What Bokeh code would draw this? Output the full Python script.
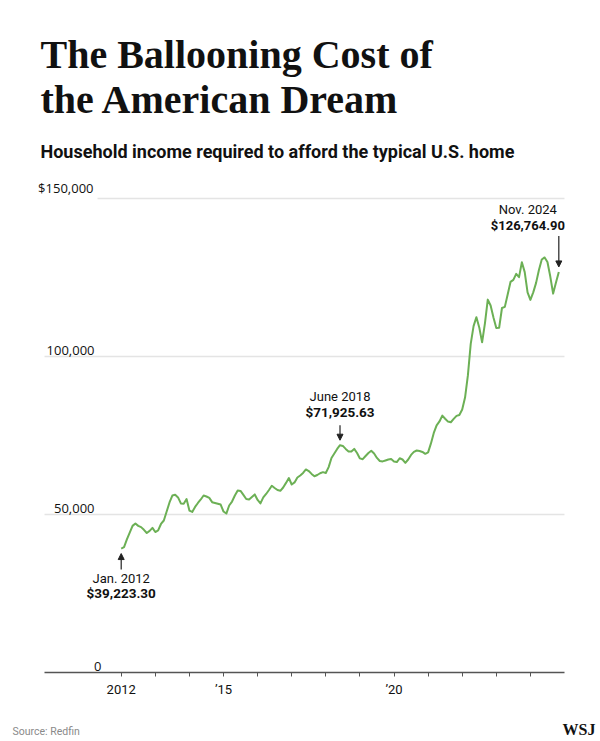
import pandas as pd
from bokeh.plotting import figure
from bokeh.layouts import column
from bokeh.models import FixedTicker, Label, Arrow, NormalHead, Range1d, Grid
from bokeh.embed import file_html
from bokeh.resources import INLINE

# ---------------- data ----------------
months = pd.date_range("2012-01-01", "2024-11-01", freq="MS")
income = [
    # 2012
    39223.30, 39660, 42100, 44300, 46400, 47150, 46400, 46000, 45150, 44150, 44800, 45750,
    # 2013
    44450, 44950, 47000, 48100, 50950, 53800, 56000, 56250, 55400, 53500, 53400, 54900,
    # 2014
    51250, 50800, 52400, 53650, 54750, 56000, 55700, 55250, 53900, 53650, 53400, 53150,
    # 2015
    50950, 50300, 52850, 54100, 56000, 57600, 57450, 56200, 54900, 54750, 55550, 56350,
    # 2016
    54600, 53500, 55400, 56500, 57750, 59100, 58400, 57750, 57500, 58550, 60000, 61550,
    # 2017
    59500, 60150, 61700, 62350, 63150, 64250, 63750, 62850, 62100, 62500, 63050, 63400,
    # 2018
    63150, 65000, 67900, 69300, 70750, 71925.63, 71700, 70750, 69950, 69950, 70750, 69450,
    # 2019
    67750, 67500, 68500, 69450, 70150, 69300, 67900, 66950, 66800, 67100, 67400, 67550,
    # 2020
    66800, 66600, 67800, 67400, 66350, 67400, 68850, 69800, 70250, 70100, 69800, 69200,
    # 2021
    69650, 72500, 75800, 78200, 79450, 81300, 80300, 79400, 79200, 80250, 81200, 81500,
    # 2022
    83200, 87000, 94000, 104000, 109600, 112450, 109200, 104500, 110500, 118000, 116150, 112350,
    # 2023
    109000, 109100, 115350, 115700, 119650, 123600, 124250, 126150, 125100, 129850, 126700, 120300,
    # 2024
    117900, 120300, 123300, 127400, 130700, 131350, 129900, 125300, 119900, 123400, 126764.90,
]
assert len(income) == len(months)

year_ticks = list(range(2012, 2025))
year_tick_labels = {2012: "2012", 2015: "\u201915", 2020: "\u201920"}
y_grid_values = [50000, 100000, 150000]
y_label_values = [0, 50000, 100000, 150000]
y_label_texts = ["0", "50,000", "100,000", "$150,000"]

callout_dates = ["2012-01-01", "2018-06-01", "2024-11-01"]
callout_date_texts = ["Jan. 2012", "June 2018", "Nov. 2024"]
callout_value_texts = ["$39,223.30", "$71,925.63", "$126,764.90"]

title_lines = ["The Ballooning Cost of", "the American Dream"]
subtitle = "Household income required to afford the typical U.S. home"
source_text = "Source: Redfin"
logo_text = "WSJ"

# ---------------- layout ----------------
W = 600
H_MAIN, H_FOOT = 712, 26
ML, MR, MT, MB = 36, 30, 0, 40
FW = W - ML - MR
FH = H_MAIN - MT - MB     # 672
PX_PER_YEAR = 34.1
X0 = 2012 - (120.7 - ML) / PX_PER_YEAR
X1 = X0 + FW / PX_PER_YEAR
Y0 = 0
Y1 = FH * 150000 / 474.0
xpp = (X1 - X0) / FW
ypp = (Y1 - Y0) / FH
AXIS_START, AXIS_END = 2009.75, 2025.0


def cx(px):
    return X0 + (px - ML) * xpp


def cy(py):
    return Y0 + (MT + FH - py) * ypp


xs = [d.year + (d.month - 1) / 12 for d in months]

GREEN = "#6cb055"
INK = "#111111"

p = figure(width=W, height=H_MAIN, x_range=Range1d(X0, X1), y_range=Range1d(Y0, Y1),
           output_backend="svg", toolbar_location=None, y_axis_location=None,
           min_border_left=ML, min_border_right=MR, min_border_top=MT,
           min_border_bottom=MB)
p.outline_line_color = None
p.background_fill_color = "white"
p.border_fill_color = "white"
p.xgrid.visible = False

grids = list(p.ygrid)
if not grids:
    g = Grid(dimension=1)
    p.add_layout(g)
    grids = [g]
for g in grids:
    g.ticker = FixedTicker(ticks=y_grid_values)
    g.grid_line_color = "#e4e4e4"
    g.grid_line_width = 1.5
    if "cross_bounds" in g.properties():
        g.cross_bounds = (AXIS_START, AXIS_END)

ax = p.xaxis[0]
ax.bounds = (AXIS_START, AXIS_END)
ax.ticker = FixedTicker(ticks=year_ticks)
ax.major_label_overrides = {y: year_tick_labels.get(y, "") for y in year_ticks}
ax.axis_line_color = "#555555"
ax.axis_line_width = 1.5
ax.major_tick_line_color = "#555555"
ax.major_tick_line_width = 1
ax.major_tick_out = 4
ax.major_tick_in = 0
ax.minor_tick_out = 0
ax.minor_tick_in = 0
ax.major_label_standoff = 5
ax.major_label_text_font = "Roboto"
ax.major_label_text_font_size = "13px"
ax.major_label_text_color = INK

p.line(xs, income, line_color=GREEN, line_width=2, line_join="round")

# y labels above gridlines
has_padding = "padding" in Label.properties()
for v, t in zip(y_label_values, y_label_texts):
    kw = {}
    lx, ly = cx(101 if v == 0 else 94), v + 2 * ypp
    if v == max(y_label_values) and has_padding:
        kw = dict(background_fill_color="white", padding=4)
        lx, ly = cx(97), v - 2 * ypp
    p.add_layout(Label(x=lx, y=ly, text=t, text_align="right", text_baseline="bottom",
                       text_font="Open Sans", text_font_size="13px", text_color=INK, **kw))

# title, subtitle
p.add_layout(Label(x=cx(40), y=cy(76), text=title_lines[0], text_font="Liberation Serif",
                   text_font_style="bold", text_font_size="40px", text_color=INK,
                   text_baseline="bottom"))
p.add_layout(Label(x=cx(40), y=cy(121), text=title_lines[1], text_font="Liberation Serif",
                   text_font_style="bold", text_font_size="40px", text_color=INK,
                   text_baseline="bottom"))
p.add_layout(Label(x=cx(40), y=cy(161), text=subtitle, text_font="Roboto",
                   text_font_style="bold", text_font_size="18px", text_color=INK,
                   text_baseline="bottom"))

# callouts
idx = {d.strftime("%Y-%m-%d"): i for i, d in enumerate(months)}
head = dict(size=6, fill_color="#222222", line_color="#222222")
for k, (d, dt, vt) in enumerate(zip(callout_dates, callout_date_texts, callout_value_texts)):
    i = idx[d]
    x, v = xs[i], income[i]
    if k == 0:
        p.add_layout(Arrow(end=NormalHead(**head),
                           x_start=x, y_start=v - 21 * ypp, x_end=x, y_end=v - 5 * ypp,
                           line_color="#222222", line_width=1.2))
        p.add_layout(Label(x=x, y=v - 37 * ypp, text=dt, text_align="center",
                           text_font="Roboto", text_font_size="13px", text_color=INK))
        p.add_layout(Label(x=x, y=v - 52 * ypp, text=vt, text_align="center",
                           text_font="Roboto", text_font_style="bold",
                           text_font_size="13.5px", text_color=INK))
    elif k == 1:
        p.add_layout(Arrow(end=NormalHead(**head),
                           x_start=x, y_start=v + 20 * ypp, x_end=x, y_end=v + 5 * ypp,
                           line_color="#222222", line_width=1.2))
        p.add_layout(Label(x=x, y=v + 25 * ypp, text=vt, text_align="center",
                           text_font="Roboto", text_font_style="bold",
                           text_font_size="13.5px", text_color=INK))
        p.add_layout(Label(x=x, y=v + 41 * ypp, text=dt, text_align="center",
                           text_font="Roboto", text_font_size="13px", text_color=INK))
    else:
        p.add_layout(Arrow(end=NormalHead(**head),
                           x_start=x, y_start=v + 36 * ypp, x_end=x, y_end=v + 5 * ypp,
                           line_color="#222222", line_width=1.2))
        p.add_layout(Label(x=x, x_offset=-31, y=v + 39 * ypp, text=vt, text_align="center",
                           text_font="Roboto", text_font_style="bold",
                           text_font_size="13px", text_color=INK))
        p.add_layout(Label(x=x, x_offset=-31, y=v + 55 * ypp, text=dt, text_align="center",
                           text_font="Roboto", text_font_size="13px", text_color=INK))

# ---------------- footer ----------------
f = figure(width=W, height=H_FOOT, x_range=Range1d(0, W), y_range=Range1d(0, H_FOOT),
           output_backend="svg", toolbar_location=None, x_axis_location=None,
           y_axis_location=None, min_border=0, min_border_left=0, min_border_right=0,
           min_border_top=0, min_border_bottom=0)
if "frame_align" in f.properties():
    f.frame_align = False
f.outline_line_color = None
f.xgrid.visible = False
f.ygrid.visible = False
f.add_layout(Label(x=12, y=1, text=source_text, text_font="Roboto",
                   text_font_size="10.5px", text_color="#8a8a8a", text_baseline="bottom"))
f.add_layout(Label(x=595, y=1, text=logo_text, text_font="Liberation Serif",
                   text_font_style="bold", text_font_size="16px", text_color=INK,
                   text_align="right", text_baseline="bottom"))

layout = column(p, f, spacing=0)
open("out.html", "w").write(file_html(layout, INLINE))
